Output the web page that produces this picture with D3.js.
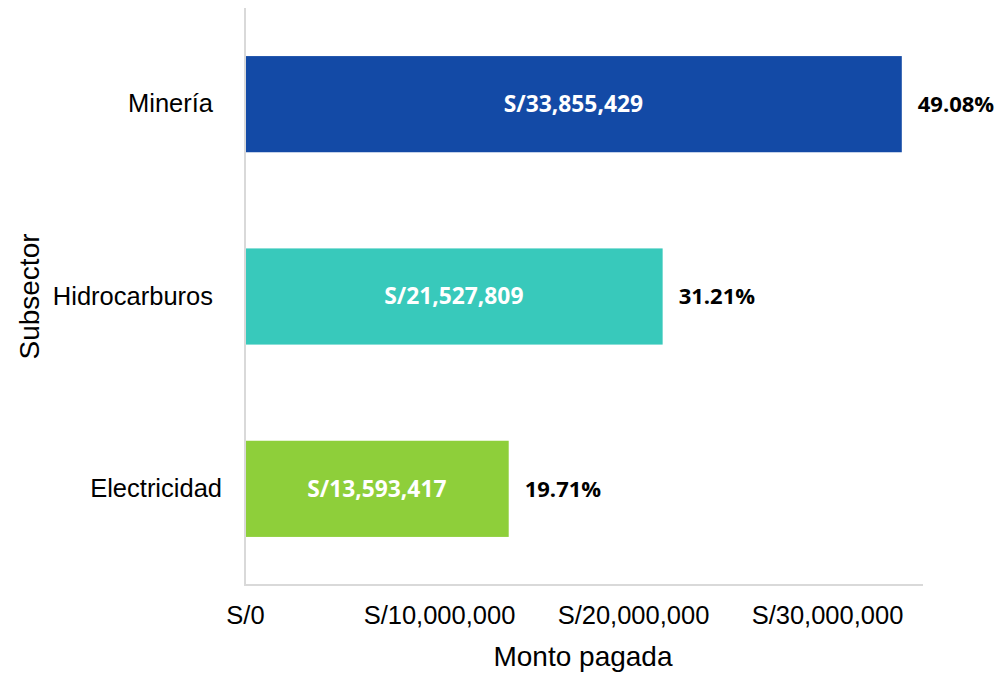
<!DOCTYPE html>
<html>
<head>
<meta charset="utf-8">
<script src="https://cdn.jsdelivr.net/npm/d3@7"></script>
<style>
    body { margin: 0; background: #fff; }
    svg text { font-family: "Liberation Sans", Arial, sans-serif; }
</style>
</head>
<body>
<div id="chart"></div>
<script>
// Chart data
const subsectors = ['Minería', 'Hidrocarburos', 'Electricidad'];
const montos = [33855429, 21527809, 13593417];
const shares = ['49.08%', '31.21%', '19.71%'];
const barColors = ['#134aa6', '#38c9bb', '#8ecf3a'];
const xTicks = [0, 10000000, 20000000, 30000000];

function createChart(containerId) {
    const width = 1000, height = 673;
    const left = 245, right = 924, top = 8, bottom = 585;

    const svg = d3.select(`#${containerId}`)
        .append('svg')
        .attr('width', width)
        .attr('height', height);

    const x = d3.scaleLinear()
        .domain([0, 35000000])
        .range([left, right]);

    const y = d3.scaleBand()
        .domain(subsectors)
        .range([top, bottom])
        .paddingInner(0.5)
        .paddingOuter(0.25);

    const fmt = d3.format(',');

    // bars
    svg.selectAll('.bar')
        .data(subsectors)
        .enter()
        .append('rect')
        .attr('class', 'bar')
        .attr('x', x(0))
        .attr('y', d => y(d))
        .attr('width', (d, i) => x(montos[i]) - x(0))
        .attr('height', y.bandwidth())
        .attr('fill', (d, i) => barColors[i]);

    // axis lines
    svg.append('line')
        .attr('x1', x(0)).attr('x2', x(0))
        .attr('y1', top).attr('y2', bottom)
        .attr('stroke', '#d9d9d9').attr('stroke-width', 2);
    svg.append('line')
        .attr('x1', x(0) - 1).attr('x2', right - 1)
        .attr('y1', bottom).attr('y2', bottom)
        .attr('stroke', '#d9d9d9').attr('stroke-width', 2);

    // x axis ticks (no tick marks)
    const xAxis = svg.append('g')
        .attr('transform', `translate(0,${bottom})`)
        .call(d3.axisBottom(x)
            .tickValues(xTicks)
            .tickSize(0)
            .tickPadding(21)
            .tickFormat(d => 'S/' + fmt(d)));
    xAxis.select('.domain').remove();
    xAxis.selectAll('text')
        .attr('fill', '#000')
        .style('font-size', '25.5px')
        .style('font-family', '"Liberation Sans", Arial, sans-serif');

    // y axis labels
    const yAxis = svg.append('g')
        .attr('transform', `translate(${x(0)},0)`)
        .call(d3.axisLeft(y).tickSize(0).tickPadding(32));
    yAxis.select('.domain').remove();
    yAxis.selectAll('text')
        .attr('fill', '#000')
        .attr('dx', d => d === 'Electricidad' ? 9 : 0)
        .style('font-size', '25.5px')
        .style('font-family', '"Liberation Sans", Arial, sans-serif');

    // value labels inside bars
    svg.selectAll('.val')
        .data(subsectors)
        .enter()
        .append('text')
        .attr('class', 'val')
        .attr('x', (d, i) => (x(0) + x(montos[i])) / 2)
        .attr('y', d => y(d) + y.bandwidth() / 2)
        .attr('dy', '0.35em')
        .attr('text-anchor', 'middle')
        .attr('fill', '#fff')
        .style('font-family', '"Open Sans", sans-serif')
        .style('font-weight', 'bold')
        .style('font-size', '22.8px')
        .text((d, i) => 'S/' + fmt(montos[i]));

    // share labels
    svg.selectAll('.pct')
        .data(subsectors)
        .enter()
        .append('text')
        .attr('class', 'pct')
        .attr('x', (d, i) => x(montos[i]) + 16)
        .attr('y', d => y(d) + y.bandwidth() / 2)
        .attr('dy', '0.35em')
        .attr('fill', '#000')
        .style('font-family', '"Open Sans", sans-serif')
        .style('font-weight', 'bold')
        .style('font-size', '22px')
        .text((d, i) => shares[i]);

    // axis titles
    svg.append('text')
        .attr('x', 583)
        .attr('y', 666)
        .attr('text-anchor', 'middle')
        .style('font-size', '28px')
        .text('Monto pagada');

    svg.append('text')
        .attr('transform', `translate(39,${(top + bottom) / 2}) rotate(-90)`)
        .attr('text-anchor', 'middle')
        .style('font-size', '28px')
        .text('Subsector');
}

createChart('chart');
</script>
</body>
</html>
